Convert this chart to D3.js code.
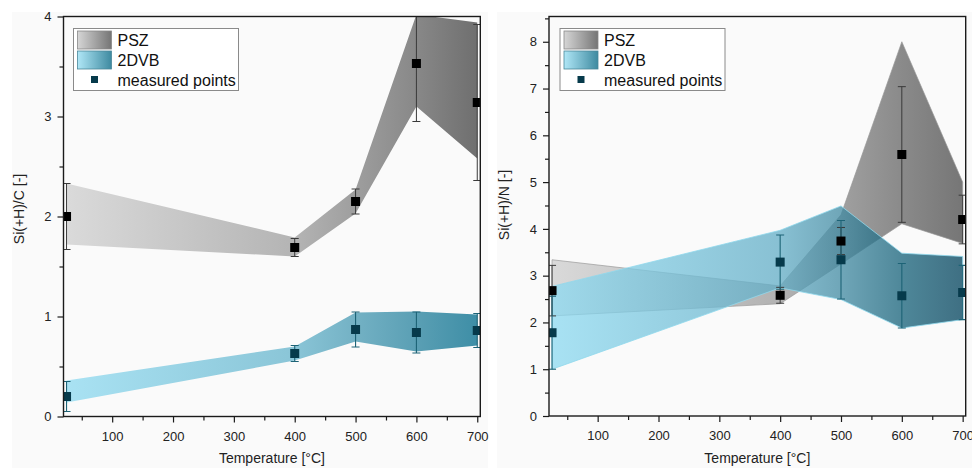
<!DOCTYPE html>
<html>
<head>
<meta charset="utf-8">
<script src="https://cdn.jsdelivr.net/npm/d3@7"></script>
<style>
  html, body { margin: 0; padding: 0; background: #ffffff; }
  svg { display: block; font-family: Arial, "Liberation Sans", sans-serif; }
</style>
</head>
<body>
<svg id="chart" width="972" height="468"></svg>
<script>
// Annealing temperatures [°C]
const temperatures = [25, 400, 500, 600, 700];

// Si(+H)/C ratio
const pszC        = [2.00, 1.69, 2.15, 3.53, 3.14];
const pszCErr     = [0.33, 0.09, 0.125, 0.58, 0.78];
const pszCLow     = [1.72, 1.60, 2.03, 3.10, 2.58];
const pszCHigh    = [2.33, 1.79, 2.27, 4.02, 3.94];
const dvbC        = [0.20, 0.63, 0.87, 0.84, 0.86];
const dvbCErr     = [0.15, 0.08, 0.175, 0.205, 0.17];
const dvbCLow     = [0.14, 0.56, 0.75, 0.65, 0.71];
const dvbCHigh    = [0.36, 0.70, 1.04, 1.05, 1.02];

// Si(+H)/N ratio
const pszN        = [2.68, 2.58, 3.74, 5.59, 4.20];
const pszNErr     = [0.54, 0.17, 0.29, 1.45, 0.52];
const pszNLow     = [2.14, 2.40, 3.25, 4.11, 3.69];
const pszNHigh    = [3.34, 2.78, 4.30, 8.00, 5.00];
const dvbN        = [1.78, 3.29, 3.34, 2.57, 2.64];
const dvbNErr     = [0.78, 0.58, 0.84, 0.69, 0.58];
const dvbNLow     = [1.00, 2.74, 2.49, 1.88, 2.06];
const dvbNHigh    = [2.77, 3.97, 4.49, 3.48, 3.41];

// Axis ticks and labels
const xMajorTicks = [100, 200, 300, 400, 500, 600, 700];
const xMinorTicks = [50, 150, 250, 350, 450, 550, 650];
const yMajorTicksC = [0, 1, 2, 3, 4];
const yMinorTicksC = [0.5, 1.5, 2.5, 3.5];
const yMajorTicksN = [0, 1, 2, 3, 4, 5, 6, 7, 8];
const yMinorTicksN = [0.5, 1.5, 2.5, 3.5, 4.5, 5.5, 6.5, 7.5, 8.5];
const legendLabels = ["PSZ", "2DVB", "measured points"];
const xTitle = "Temperature [°C]";

const svg = d3.select("#chart");
const defs = svg.append("defs");

function gradient(id, x0, x1, stops) {
  const g = defs.append("linearGradient")
    .attr("id", id)
    .attr("gradientUnits", "userSpaceOnUse")
    .attr("x1", x0).attr("x2", x1).attr("y1", 0).attr("y2", 0);
  stops.forEach(s => g.append("stop").attr("offset", s[0]).attr("stop-color", s[1]));
  return `url(#${id})`;
}

function panel(cfg) {
  const { id, left, right, top, bottom, yMax } = cfg;

  // light panel backdrop
  svg.append("rect")
    .attr("x", cfg.bg[0]).attr("y", cfg.bg[1])
    .attr("width", cfg.bg[2]).attr("height", cfg.bg[3])
    .attr("fill", "#fafafa");

  const x = d3.scaleLinear().domain([20, 705]).range([left, right]);
  const y = d3.scaleLinear().domain([0, yMax]).range([bottom, top]);

  defs.append("clipPath").attr("id", "clip-" + id)
    .append("rect").attr("x", left).attr("y", top)
    .attr("width", right - left).attr("height", bottom - top);

  // gradient stop offsets follow the measured temperatures
  const frac = t => (x(t) - x(25)) / (x(700) - x(25));
  const grayFill = gradient("gray-" + id, x(25), x(700),
    temperatures.map((t, i) => [frac(t), cfg.grayStops[i]]));
  const blueFill = gradient("blue-" + id, x(25), x(700),
    temperatures.map((t, i) => [frac(t), cfg.blueStops[i]]));

  const plot = svg.append("g").attr("clip-path", `url(#clip-${id})`);

  const band = (lo, hi) => d3.area()
    .x((d, i) => x(temperatures[i]))
    .y0((d, i) => y(lo[i]))
    .y1((d, i) => y(hi[i]))(temperatures);

  plot.append("path").attr("d", band(cfg.psz.low, cfg.psz.high))
    .attr("fill", grayFill)
    .attr("stroke", cfg.grayEdge || "none").attr("stroke-width", 0.7);
  plot.append("path").attr("d", band(cfg.dvb.low, cfg.dvb.high))
    .attr("fill", blueFill).attr("fill-opacity", cfg.blueOpacity)
    .attr("stroke", cfg.blueEdge || "none").attr("stroke-width", 0.8);

  // error bars
  function errorBars(vals, errs, color, width) {
    const g = plot.append("g").attr("stroke", color).attr("stroke-width", width);
    temperatures.forEach((t, i) => {
      const cx = x(t), y1 = y(vals[i] + errs[i]), y0 = y(vals[i] - errs[i]);
      g.append("line").attr("x1", cx).attr("x2", cx).attr("y1", y1).attr("y2", y0);
      g.append("line").attr("x1", cx - 4).attr("x2", cx + 4).attr("y1", y1).attr("y2", y1);
      g.append("line").attr("x1", cx - 4).attr("x2", cx + 4).attr("y1", y0).attr("y2", y0);
    });
  }
  errorBars(cfg.psz.val, cfg.psz.err, "#3a3a3a", 1);
  errorBars(cfg.dvb.val, cfg.dvb.err, "#1d6376", 1.1);

  // measured points
  function squares(vals, color) {
    plot.append("g").selectAll("rect").data(vals).join("rect")
      .attr("x", (d, i) => x(temperatures[i]) - 4.5)
      .attr("y", d => y(d) - 4.5)
      .attr("width", 9).attr("height", 9)
      .attr("fill", color);
  }
  squares(cfg.psz.val, "#000000");
  squares(cfg.dvb.val, "#063a4b");

  // axes
  const axisColor = "#1a1a1a";
  const styleAxis = g => {
    g.select(".domain").remove();
    g.selectAll("line").attr("stroke", axisColor).attr("stroke-width", 1.2);
    g.selectAll("text").attr("fill", "#222").style("font-size", "13px")
      .style("font-family", "Arial, 'Liberation Sans', sans-serif");
  };
  svg.append("g").attr("transform", `translate(0,${bottom})`)
    .call(d3.axisBottom(x).tickValues(xMajorTicks).tickSize(6).tickPadding(9).tickFormat(d3.format("d")))
    .call(styleAxis);
  svg.append("g").attr("transform", `translate(0,${bottom})`)
    .call(d3.axisBottom(x).tickValues(xMinorTicks).tickSize(4).tickFormat(""))
    .call(styleAxis);
  svg.append("g").attr("transform", `translate(${left},0)`)
    .call(d3.axisLeft(y).tickValues(cfg.yMajor).tickSize(6).tickPadding(6).tickFormat(d3.format("d")))
    .call(styleAxis);
  svg.append("g").attr("transform", `translate(${left},0)`)
    .call(d3.axisLeft(y).tickValues(cfg.yMinor).tickSize(4).tickFormat(""))
    .call(styleAxis);

  // frame
  svg.append("rect")
    .attr("x", left).attr("y", top)
    .attr("width", right - left).attr("height", bottom - top)
    .attr("fill", "none").attr("stroke", axisColor).attr("stroke-width", 1.4);

  // titles
  svg.append("text")
    .attr("x", (left + right) / 2).attr("y", 463)
    .attr("text-anchor", "middle").attr("fill", "#222")
    .style("font-size", "14px").text(xTitle);
  svg.append("text")
    .attr("transform", `translate(${cfg.yTitleX},${cfg.yTitleY}) rotate(-90)`)
    .attr("text-anchor", "middle").attr("fill", "#222")
    .style("font-size", "14px").text(cfg.yTitle);

  // legend
  const lg = svg.append("g").attr("transform", `translate(${left + cfg.legendDX},${top + 12})`);
  lg.append("rect").attr("x", 0).attr("y", 0).attr("width", 165).attr("height", 62)
    .attr("fill", "#ffffff").attr("stroke", "#8a8a8a").attr("stroke-width", 1);
  const lgGray = gradient("lg-gray-" + id, 4, 38, [[0, "#d6d6d6"], [1, "#757575"]]);
  const lgBlue = gradient("lg-blue-" + id, 4, 38, [[0, "#b0e7f7"], [1, "#3e8aa0"]]);
  lg.append("rect").attr("x", 4).attr("y", 2.5).attr("width", 34).attr("height", 18)
    .attr("fill", lgGray).attr("stroke", "#888").attr("stroke-width", 0.8);
  lg.append("rect").attr("x", 4).attr("y", 22.5).attr("width", 34).attr("height", 18)
    .attr("fill", lgBlue).attr("stroke", "#4a8799").attr("stroke-width", 0.8);
  lg.append("rect").attr("x", 17.5).attr("y", 47.5).attr("width", 7).attr("height", 7)
    .attr("fill", "#063a4b");
  legendLabels.forEach((t, i) => {
    lg.append("text").attr("x", 44).attr("y", 17 + i * 20)
      .attr("fill", "#111").style("font-size", "16px").text(t);
  });
}

panel({
  id: "c", left: 63.5, right: 480.3, top: 16.5, bottom: 416.5, yMax: 4,
  bg: [12, 12, 476, 456],
  yMajor: yMajorTicksC, yMinor: yMinorTicksC,
  yTitle: "Si(+H)/C [-]", yTitleX: 24, yTitleY: 209,
  legendDX: 10,
  psz: { val: pszC, err: pszCErr, low: pszCLow, high: pszCHigh },
  dvb: { val: dvbC, err: dvbCErr, low: dvbCLow, high: dvbCHigh },
  grayStops: ["#dadada", "#b4b4b4", "#9e9e9e", "#888888", "#6f6f6f"],
  blueStops: ["#a9e2f3", "#8ac5d7", "#73b1c4", "#5a9fb4", "#3e8ea6"],
  blueOpacity: 1
});

panel({
  id: "n", left: 549, right: 965.7, top: 16.5, bottom: 416, yMax: 8.54,
  bg: [497, 12, 475, 456],
  yMajor: yMajorTicksN, yMinor: yMinorTicksN,
  yTitle: "Si(+H)/N [-]", yTitleX: 509, yTitleY: 205,
  legendDX: 11,
  psz: { val: pszN, err: pszNErr, low: pszNLow, high: pszNHigh },
  dvb: { val: dvbN, err: dvbNErr, low: dvbNLow, high: dvbNHigh },
  grayStops: ["#d9d9d9", "#b2b2b2", "#a0a0a0", "#8a8a8a", "#767676"],
  blueStops: ["#8ddaf1", "#62adc6", "#418aa2", "#156179", "#00415b"],
  blueOpacity: 0.75,
  grayEdge: "#9a9a9a",
  blueEdge: "#8fd8ec"
});
</script>
</body>
</html>
